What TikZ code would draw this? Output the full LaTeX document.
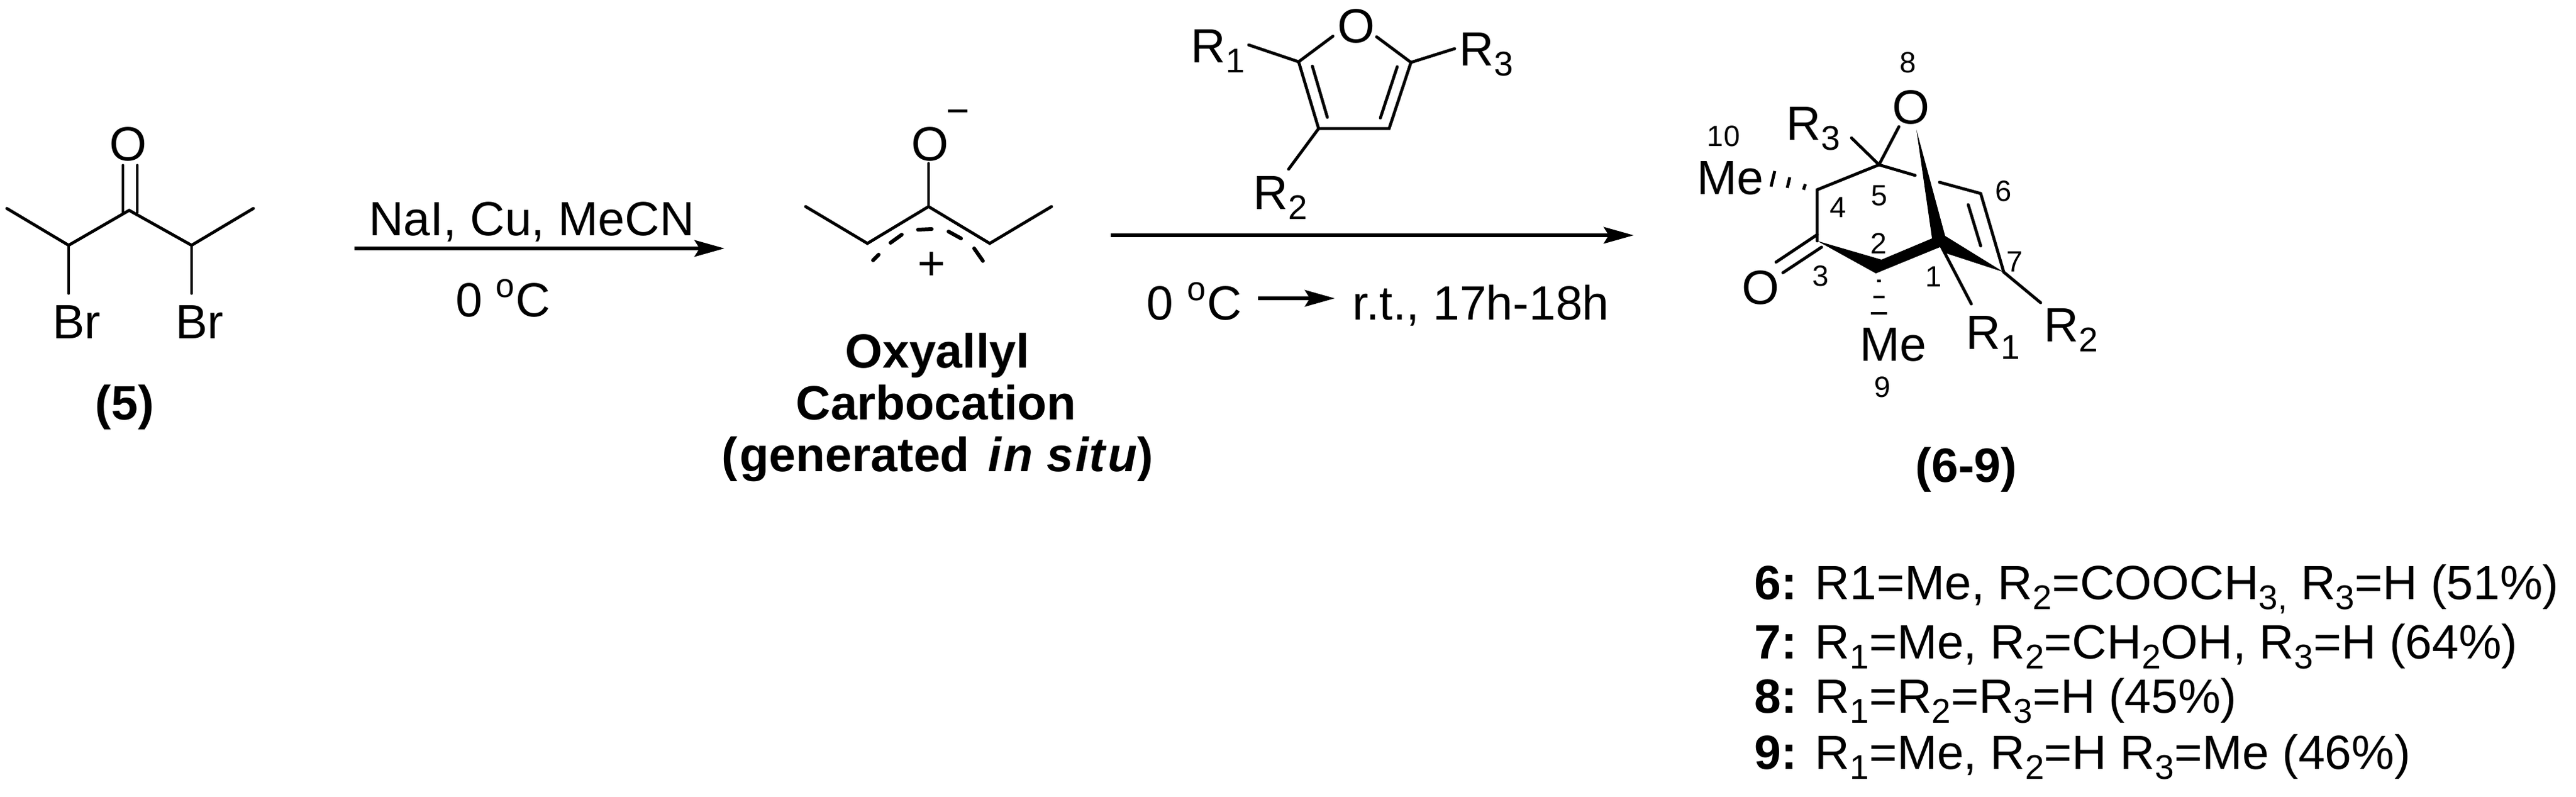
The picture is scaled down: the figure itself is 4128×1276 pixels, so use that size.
\documentclass[tikz,border=0pt]{standalone}
\usepackage{fontspec}
\setmainfont{Liberation Sans}
\usetikzlibrary{arrows.meta}
\newcommand{\subnum}[1]{\raisebox{-4pt}{\fontsize{13.75}{14}\selectfont #1}}
\tikzset{
  bond/.style={line width=1.2pt, line cap=round, line join=miter},
  hashbond/.style={line width=1.2pt, line cap=butt},
  rxnarrow/.style={line width=1.4pt, -{Stealth[length=12pt,width=6.6pt,inset=2pt]}},
  atomlabel/.style={inner sep=0pt, font=\fontsize{19.25}{21}\selectfont},
  numlabel/.style={inner sep=0pt, anchor=base, font=\fontsize{11.75}{13}\selectfont},
  boldlabel/.style={inner sep=0pt, anchor=base, font=\fontsize{19.25}{21}\selectfont\bfseries},
  listlabel/.style={inner sep=0pt, anchor=base west, font=\fontsize{19.25}{21}\selectfont}
}
\begin{document}
\begin{tikzpicture}[x=0.25pt, y=-0.25pt]
    \useasboundingbox (0,0) rectangle (4128,1276);

    % bromoketone 5
    \coordinate (a1) at (11,334);
    \coordinate (a2) at (110,393);
    \coordinate (a3) at (207,337);
    \coordinate (a4) at (307,393);
    \coordinate (a5) at (406,334);
    \coordinate (a6) at (197,265);
    \coordinate (a7) at (197,340);
    \coordinate (a8) at (220,265);
    \coordinate (a9) at (220,340);
    \node[atomlabel] (aO) at (205,231) {O};
    \node[atomlabel, anchor=base] (aBr1) at (123,542) {Br};
    \node[atomlabel, anchor=base] (aBr2) at (320,542) {Br};
    \coordinate (aBr1end) at (110,470);
    \coordinate (aBr2end) at (307,470);
    \draw[bond] (a1) -- (a2) -- (a3) -- (a4) -- (a5);
    \draw[bond] (a2) -- (aBr1end);
    \draw[bond] (a4) -- (aBr2end);
    \draw[bond] (a6) -- (a7);
    \draw[bond] (a8) -- (a9);
    \node[boldlabel] (lab5) at (200,672) {(5)};

    % first arrow
    \coordinate (r1s) at (568,398);
    \coordinate (r1e) at (1161,398);
    \draw[rxnarrow] (r1s) -- (r1e);
    \node[atomlabel, anchor=base] (r1top) at (852,377) {NaI, Cu, MeCN};
    \node[atomlabel, anchor=base] (r1bot) at (806,507) {0 \textsuperscript{o}C};

    % oxyallyl
    \coordinate (b1) at (1291,331);
    \coordinate (b2) at (1390,390);
    \coordinate (b3) at (1488,331);
    \coordinate (b4) at (1586,390);
    \coordinate (b5) at (1685,331);
    \coordinate (b6) at (1488,262);
    \node[atomlabel] (bO) at (1490,231) {O};
    \node[atomlabel, anchor=base, font=\fontsize{16}{18}\selectfont] (bminus) at (1535,199) {−};
    \node[atomlabel, anchor=base] (bplus) at (1493,448) {+};
    \draw[bond] (b1) -- (b2) -- (b3) -- (b4) -- (b5);
    \draw[bond] (b3) -- (b6);
    % dashed allyl arc
    \coordinate (d1) at (1399,417);
    \coordinate (d2) at (1408,408);
    \coordinate (d3) at (1427,389);
    \coordinate (d4) at (1445,376);
    \coordinate (d5) at (1471,368);
    \coordinate (d6) at (1493,367);
    \coordinate (d7) at (1520,371);
    \coordinate (d8) at (1540,382);
    \coordinate (d9) at (1561,398);
    \coordinate (d10) at (1575,418);
    \draw[bond, line width=1.5pt] (d1) -- (d2);
    \draw[bond, line width=1.5pt] (d3) -- (d4);
    \draw[bond, line width=1.5pt] (d5) -- (d6);
    \draw[bond, line width=1.5pt] (d7) -- (d8);
    \draw[bond, line width=1.5pt] (d9) -- (d10);
    \node[boldlabel] (cat1) at (1502,589) {Oxyallyl};
    \node[boldlabel] (cat2) at (1500,672) {Carbocation};
    \node[boldlabel] (cat3) at (1502,755) {(\kern1pt generated\kern2pt\ \textit{i\kern1pt n s\kern1pt it\kern1pt u})};

    % furan
    \coordinate (c2) at (2081,99);
    \coordinate (c3) at (2113,206);
    \coordinate (c4) at (2226,206);
    \coordinate (c5) at (2261,100);
    \coordinate (cOl) at (2136,58);
    \coordinate (cOr) at (2206,59);
    \coordinate (cR1) at (2001,72);
    \coordinate (cR3) at (2331,78);
    \coordinate (cR2) at (2065,271);
    \coordinate (c6) at (2103,106);
    \coordinate (c7) at (2127,188);
    \coordinate (c8) at (2239,107);
    \coordinate (c9) at (2212,189);
    \node[atomlabel] (cO) at (2173,42) {O};
    \node[atomlabel, anchor=base west] (cRa) at (1908,100) {R\subnum{1}};
    \node[atomlabel, anchor=base west] (cRb) at (2008,335) {R\subnum{2}};
    \node[atomlabel, anchor=base west] (cRc) at (2338,105) {R\subnum{3}};
    \draw[bond] (cOl) -- (c2) -- (c3) -- (c4) -- (c5) -- (cOr);
    \draw[bond] (c2) -- (cR1);
    \draw[bond] (c5) -- (cR3);
    \draw[bond] (c3) -- (cR2);
    \draw[bond] (c6) -- (c7);
    \draw[bond] (c8) -- (c9);

    % second arrow
    \coordinate (r2s) at (1780,377);
    \coordinate (r2e) at (2618,377);
    \draw[rxnarrow] (r2s) -- (r2e);
    \node[atomlabel, anchor=base west] (r2a) at (1837,512) {0 \textsuperscript{o}C};
    \node[atomlabel, anchor=base west] (r2b) at (2167,512) {r.t., 17h-18h};
    \coordinate (r3s) at (2016,478);
    \coordinate (r3e) at (2139,478);
    \draw[rxnarrow] (r3s) -- (r3e);

    % bicyclic product
    \coordinate (p1a) at (3096,382);
    \coordinate (p1b) at (3117,378);
    \coordinate (p1c) at (3111,395);
    \coordinate (p1d) at (3119,406);
    \coordinate (p2a) at (3015,416);
    \coordinate (p2b) at (3006,438);
    \coordinate (p3) at (2912,386);
    \coordinate (p4) at (2912,304);
    \coordinate (p5) at (3011,264);
    \coordinate (p6) at (3174,310);
    \coordinate (p7) at (3211,436);
    \coordinate (pOl) at (3043,203);
    \coordinate (pOr) at (3071,208);
    \coordinate (pR3) at (2967,221);
    \coordinate (pbr1) at (3069,281);
    \coordinate (pbr2) at (3108,292);
    \coordinate (pin1) at (3154,328);
    \coordinate (pin2) at (3174,394);
    \coordinate (pR1) at (3159,487);
    \coordinate (pR2) at (3270,485);
    \coordinate (pc1) at (2912,376);
    \coordinate (pc2) at (2846,420);
    \coordinate (pc3) at (2919,396);
    \coordinate (pc4) at (2857,437);
    \fill (p3) -- (p2a) -- (p1a) -- (pOr) -- (p1b) -- (p7) -- (p1d) -- (p1c) -- (p2b) -- cycle;
    \draw[bond] (p3) -- (p4) -- (p5) -- (pOl);
    \draw[bond] (p5) -- (pR3);
    \draw[bond] (p5) -- (pbr1);
    \draw[bond] (pbr2) -- (p6) -- (p7);
    \draw[bond] (pin1) -- (pin2);
    \draw[bond] (p1c) -- (pR1);
    \draw[bond] (p7) -- (pR2);
    \draw[bond] (pc1) -- (pc2);
    \draw[bond] (pc3) -- (pc4);
    % hashed bonds
    \coordinate (h1) at (2844,274);
    \coordinate (h2) at (2838,299);
    \coordinate (h3) at (2868,284);
    \coordinate (h4) at (2864,301);
    \coordinate (h5) at (2893,295);
    \coordinate (h6) at (2890,304);
    \coordinate (h7) at (3008,450);
    \coordinate (h8) at (3014,450);
    \coordinate (h9) at (3002,476);
    \coordinate (h10) at (3020,476);
    \coordinate (h11) at (2998,502);
    \coordinate (h12) at (3024,502);
    \draw[hashbond] (h1) -- (h2);
    \draw[hashbond] (h3) -- (h4);
    \draw[hashbond] (h5) -- (h6);
    \draw[hashbond] (h7) -- (h8);
    \draw[hashbond] (h9) -- (h10);
    \draw[hashbond] (h11) -- (h12);
    % atoms of the product
    \node[atomlabel] (pO) at (3062,172) {O};
    \node[atomlabel] (pOc) at (2821,461) {O};
    \node[atomlabel, anchor=base west] (pMe1) at (2719,311) {Me};
    \node[atomlabel, anchor=base] (pMe2) at (3034,578) {Me};
    \node[atomlabel, anchor=base west] (pRc) at (2862,224) {R\subnum{3}};
    \node[atomlabel, anchor=base west] (pRa) at (3150,559) {R\subnum{1}};
    \node[atomlabel, anchor=base west] (pRb) at (3275,547) {R\subnum{2}};
    % numbering
    \node[numlabel] (n1) at (3099,459) {1};
    \node[numlabel] (n2) at (3011,406) {2};
    \node[numlabel] (n3) at (2918,458) {3};
    \node[numlabel] (n4) at (2946,348) {4};
    \node[numlabel] (n5) at (3012,329) {5};
    \node[numlabel] (n6) at (3211,322) {6};
    \node[numlabel] (n7) at (3229,435) {7};
    \node[numlabel] (n8) at (3058,116) {8};
    \node[numlabel] (n9) at (3017,636) {9};
    \node[numlabel] (n10) at (2762,234) {10};
    \node[boldlabel] (lab69) at (3151,772) {(6-9)};

    % substituent list
    \node[listlabel] (l6) at (2811,960) {\textbf{6:} R1=Me, R\subnum{2}=COOCH\subnum{3,} R\subnum{3}=H (51\%)};
    \node[listlabel] (l7) at (2811,1055) {\textbf{7:} R\subnum{1}=Me, R\subnum{2}=CH\subnum{2}OH, R\subnum{3}=H (64\%)};
    \node[listlabel] (l8) at (2811,1142) {\textbf{8:} R\subnum{1}=R\subnum{2}=R\subnum{3}=H (45\%)};
    \node[listlabel] (l9) at (2811,1232) {\textbf{9:} R\subnum{1}=Me, R\subnum{2}=H R\subnum{3}=Me (46\%)};
\end{tikzpicture}
\end{document}
